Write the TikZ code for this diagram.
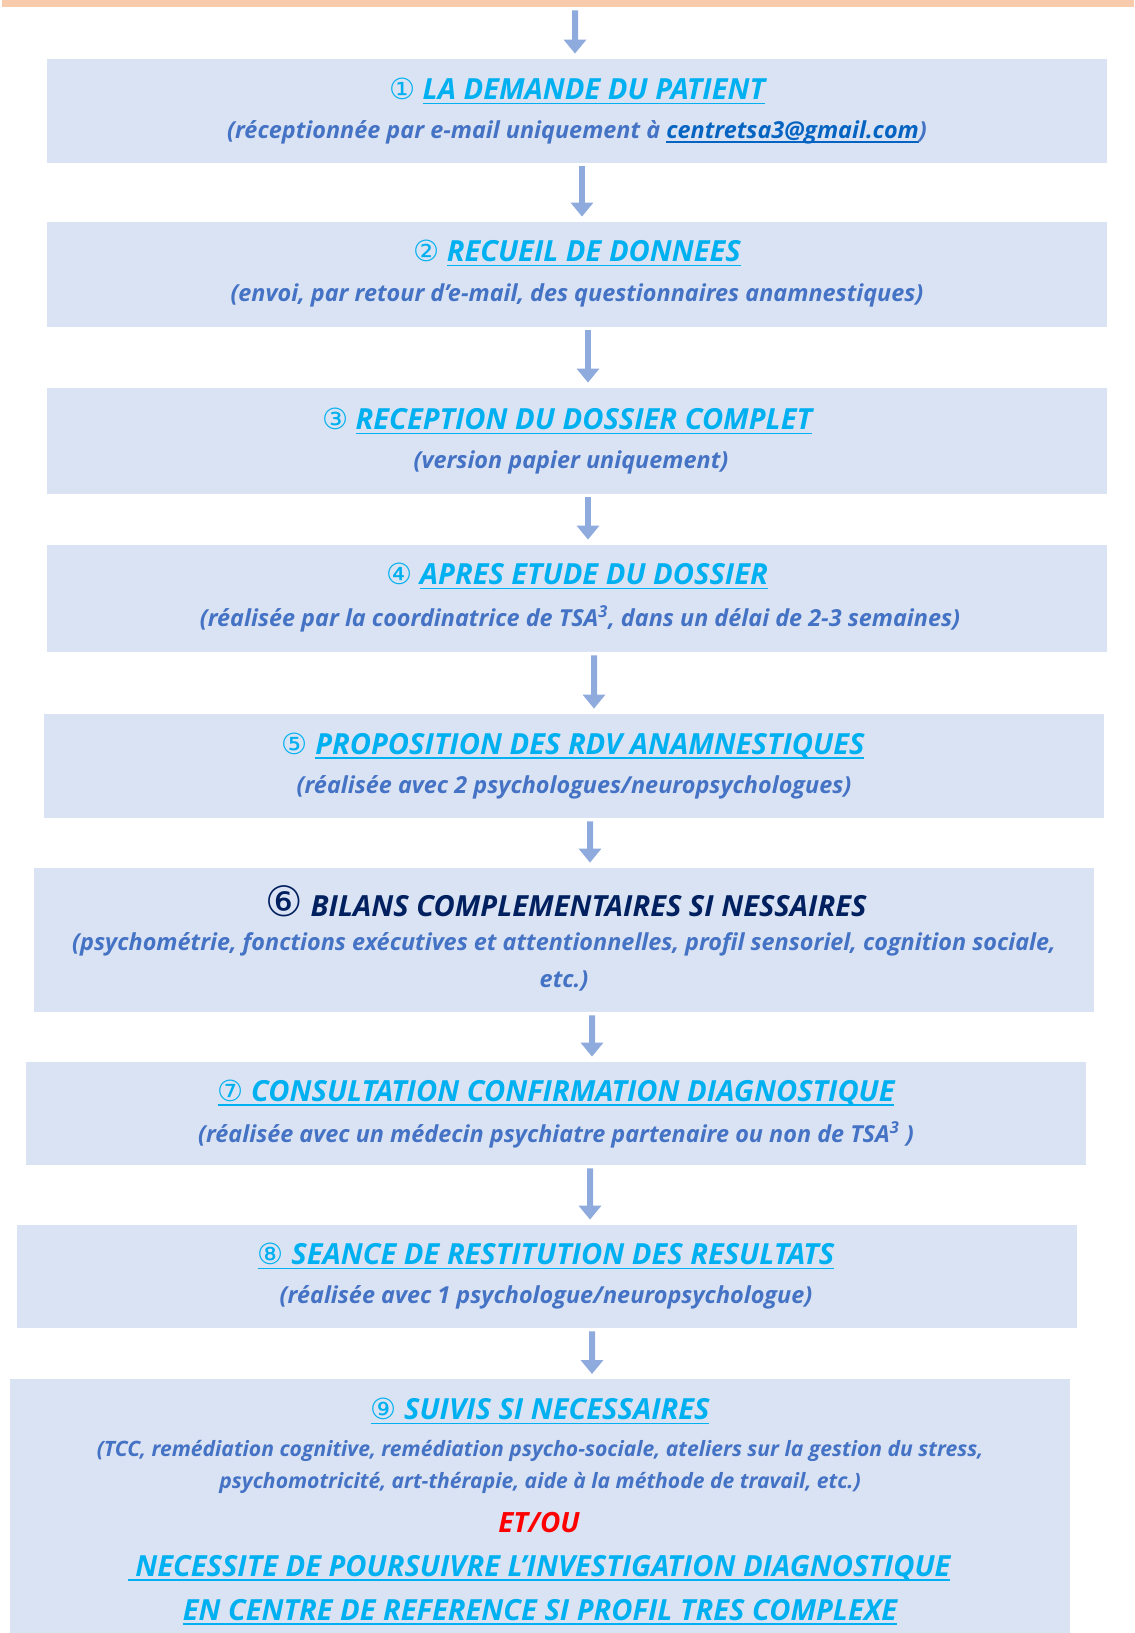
\documentclass[tikz,border=0pt]{standalone}
\usepackage{fontspec}
\setmainfont{Open Sans}
\newfontfamily\circfont{DejaVu Sans}
\IfFontExistsTF{Open Sans SemiBold Italic}
    {\newfontfamily\titlefont{Open Sans SemiBold Italic}}
    {\IfFontExistsTF{OpenSans-SemiBoldItalic}
        {\newfontfamily\titlefont{OpenSans-SemiBoldItalic}}
        {\newcommand{\titlefont}{\bfseries\itshape}}}
\usetikzlibrary{arrows.meta}
\definecolor{boxfill}{HTML}{DAE3F3}
\definecolor{titlecyan}{HTML}{00B0F0}
\definecolor{subblue}{HTML}{4472C4}
\definecolor{navy}{HTML}{002060}
\definecolor{linkblue}{HTML}{0563C1}
\definecolor{arrowblue}{HTML}{8FAADC}
\definecolor{bandorange}{HTML}{F8CBAD}
\tikzset{
    stage/.style={fill=boxfill, inner sep=0pt, minimum width=530bp},
    title/.style={text=titlecyan, inner sep=0pt, font=\fontsize{14.6}{17}\selectfont\titlefont},
    sub/.style={text=subblue, inner sep=0pt, font=\fontsize{11.75}{14}\selectfont\bfseries\itshape},
    flow/.style={draw=arrowblue, line width=3bp, shorten <=1.5bp, shorten >=2.5bp,
        -{Triangle[width=11bp,length=7bp]}}
}
\newcommand{\circnum}[1]{{\circfont\mdseries\upshape #1}}
\newcommand{\undl}[1]{\leavevmode\setbox0\hbox{#1}\rlap{\rule[-2.4pt]{\wd0}{0.8pt}}\box0}
\begin{document}
\begin{tikzpicture}[x=0.5bp, y=-0.5bp]
        \useasboundingbox (0,0) rectangle (1135,1633);
        \node[fill=bandorange, inner sep=0pt, minimum width=566bp, minimum height=3.5bp] (band) at (568,3.5) {};
        \node[stage, minimum height=52bp] (b1) at (577,111) {};
        \node[stage, minimum height=52.5bp] (b2) at (577,274.5) {};
        \node[stage, minimum height=53bp] (b3) at (577,441) {};
        \node[stage, minimum height=53.5bp] (b4) at (577,598.5) {};
        \node[stage, minimum height=52bp] (b5) at (574,766) {};
        \node[stage, minimum height=72bp] (b6) at (564,940) {};
        \node[stage, minimum height=51.5bp] (b7) at (556,1113.5) {};
        \node[stage, minimum height=51.5bp] (b8) at (547,1276.5) {};
        \node[stage, minimum height=135bp, anchor=north] (b9) at (540,1379) {};
        \node[title] (t1) at (577,91) {\circnum{①} \undl{LA DEMANDE DU PATIENT}};
        \node[sub] (s1) at (577,132) {(réceptionnée par e-mail uniquement à \textcolor{linkblue}{\undl{centretsa3@gmail.com}})};
        \node[title] (t2) at (577,253) {\circnum{②} \undl{RECUEIL DE DONNEES}};
        \node[sub] (s2) at (577,295) {(envoi, par retour d’e-mail, des questionnaires anamnestiques)};
        \node[title] (t3) at (567,421) {\circnum{③} \undl{RECEPTION DU DOSSIER COMPLET}};
        \node[sub] (s3) at (571,462) {(version papier uniquement)};
        \node[title] (t4) at (577,576) {\circnum{④} \undl{APRES ETUDE DU DOSSIER}};
        \node[sub] (s4) at (580,619) {(réalisée par la coordinatrice de TSA\textsuperscript{3}, dans un délai de 2-3 semaines)};
        \node[title] (t5) at (573,746) {\circnum{⑤} \undl{PROPOSITION DES RDV ANAMNESTIQUES}};
        \node[sub] (s5) at (574,787) {(réalisée avec 2 psychologues/neuropsychologues)};
        \node[title, text=navy, font=\fontsize{14.6}{17}\selectfont\bfseries\itshape] (t6) at (566,901)
            {{\circfont\mdseries\upshape\fontsize{21}{21}\selectfont ⑥} BILANS COMPLEMENTAIRES SI NESSAIRES};
        \node[sub, align=center, font=\fontsize{11.75}{18.5}\selectfont\bfseries\itshape] (s6) at (564,961.5)
            {(psychométrie, fonctions exécutives et attentionnelles, profil sensoriel, cognition sociale,\\ etc.)};
        \node[title] (t7) at (556,1093) {\undl{\circnum{⑦} CONSULTATION CONFIRMATION DIAGNOSTIQUE}};
        \node[sub] (s7) at (556,1135) {(réalisée avec un médecin psychiatre partenaire ou non de TSA\textsuperscript{3} )};
        \node[title] (t8) at (546,1256) {\undl{\circnum{⑧} SEANCE DE RESTITUTION DES RESULTATS}};
        \node[sub] (s8) at (546,1297) {(réalisée avec 1 psychologue/neuropsychologue)};
        \node[title] (t9) at (540,1411) {\undl{\circnum{⑨} SUIVIS SI NECESSAIRES}};
        \node[sub, align=center, font=\fontsize{10.6}{16}\selectfont\bfseries\itshape] (s9) at (540,1467)
            {(TCC, remédiation cognitive, remédiation psycho-sociale, ateliers sur la gestion du stress,\\
            psychomotricité, art-thérapie, aide à la méthode de travail, etc.)};
        \node[inner sep=0pt, text=red, font=\fontsize{14}{17}\selectfont\bfseries\itshape] (etou) at (539,1523) {ET/OU};
        \node[title] (n1) at (539,1568) {\undl{\ NECESSITE DE POURSUIVRE L’INVESTIGATION DIAGNOSTIQUE}};
        \node[title] (n2) at (540,1612) {\undl{EN CENTRE DE REFERENCE SI PROFIL TRES COMPLEXE}};
        \draw[flow] ([xshift=3.5bp]band.south) -- ([xshift=-1bp]b1.north);
        \draw[flow] ([xshift=2.5bp]b1.south) -- ([xshift=2.5bp]b2.north);
        \draw[flow] ([xshift=5.5bp]b2.south) -- ([xshift=5.5bp]b3.north);
        \draw[flow] ([xshift=5.5bp]b3.south) -- ([xshift=5.5bp]b4.north);
        \draw[flow] ([xshift=8.5bp]b4.south) -- ([xshift=10bp]b5.north);
        \draw[flow] ([xshift=8bp]b5.south) -- ([xshift=13bp]b6.north);
        \draw[flow] ([xshift=14bp]b6.south) -- ([xshift=18bp]b7.north);
        \draw[flow] ([xshift=17bp]b7.south) -- ([xshift=21.5bp]b8.north);
        \draw[flow] ([xshift=22.5bp]b8.south) -- ([xshift=26bp]b9.north);
    \end{tikzpicture}
\end{document}
